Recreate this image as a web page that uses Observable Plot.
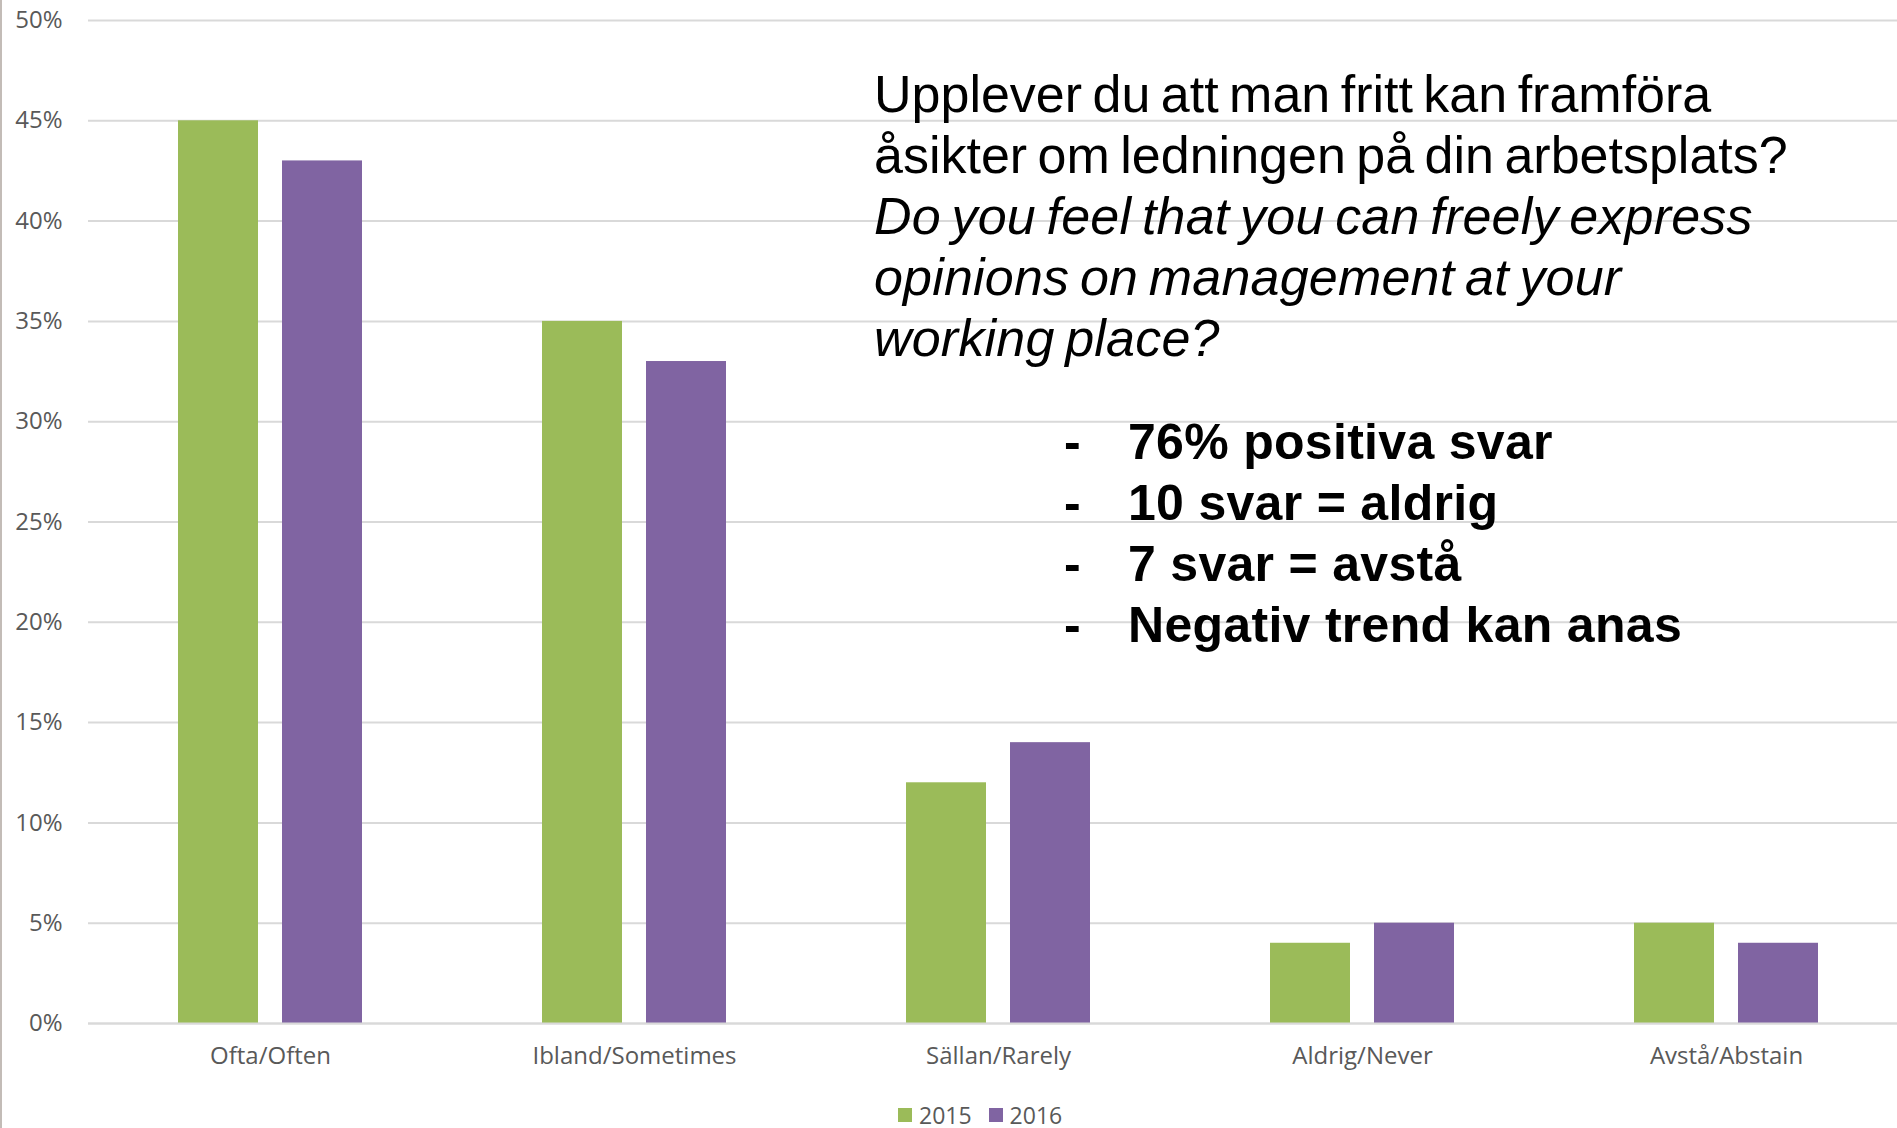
<!DOCTYPE html>
<html>
<head>
<meta charset="utf-8">
<script src="https://cdn.jsdelivr.net/npm/d3@7"></script>
<script src="https://cdn.jsdelivr.net/npm/@observablehq/plot@0.6"></script>
<style>
  html, body { margin: 0; padding: 0; background: #fff; overflow: hidden; }
  #wrap { position: relative; width: 1897px; height: 1128px; overflow: hidden; background: #fff; }
  #chart { position: absolute; left: 0; top: 0; }
  #chart svg { max-width: none !important; }
  #frame { position: absolute; left: 0; top: 0; width: 2px; height: 1128px; background: #c3bcb7; }
  #question { position: absolute; left: 874px; top: 64px; font-family: "Liberation Sans", Arial, sans-serif;
              font-size: 52px; line-height: 61px; word-spacing: -4px; color: #000; white-space: nowrap; }
  #question .en { letter-spacing: 0.2px; }
  #bullets { position: absolute; left: 1064px; top: 412px; font-family: "Liberation Sans", Arial, sans-serif;
             font-weight: bold; font-size: 50px; line-height: 61px; color: #000; white-space: nowrap; }
  #bullets .dash { display: inline-block; width: 64px; }
  #bullets .txt { letter-spacing: 0.3px; }
  #legend { position: absolute; left: 898px; top: 1104px; height: 22px; line-height: 22px; display: flex; align-items: center;
            font-family: "Open Sans", sans-serif; font-size: 23px; color: #595959; }
  #legend .sw { display: inline-block; width: 14px; height: 14px; margin-right: 7px; }
  #legend .item { display: flex; align-items: center; margin-right: 17px; line-height: 22px; }
</style>
</head>
<body>
<div id="wrap">
  <div id="chart"></div>
  <div id="frame"></div>
  <div id="question"></div>
  <div id="bullets"></div>
  <div id="legend"></div>
</div>
<script>
// ---- data ----
const categories = ["Ofta/Often", "Ibland/Sometimes", "Sällan/Rarely", "Aldrig/Never", "Avstå/Abstain"];
const years = ["2015", "2016"];
const values2015 = [45, 35, 12, 4, 5];
const values2016 = [43, 33, 14, 5, 4];
const yTicks = [0, 5, 10, 15, 20, 25, 30, 35, 40, 45, 50];
const colors = ["#9bbb59", "#8064a2"];
const questionLines = [
  "Upplever du att man fritt kan framföra",
  "åsikter om ledningen på din arbetsplats?"
];
const questionLinesEn = [
  "Do you feel that you can freely express",
  "opinions on management at your",
  "working place?"
];
const bulletLines = ["76% positiva svar", "10 svar = aldrig", "7 svar = avstå", "Negativ trend kan anas"];

// ---- table ----
const rows2015 = categories.map((c, i) => ({category: c, year: years[0], value: values2015[i]}));
const rows2016 = categories.map((c, i) => ({category: c, year: years[1], value: values2016[i]}));

const chart = Plot.plot({
  width: 1908,
  height: 1090,
  marginLeft: 88,
  marginRight: 0,
  marginTop: 20,
  marginBottom: 67,
  style: {fontFamily: "'Open Sans', sans-serif", fontSize: "24px", color: "#595959", background: "transparent", overflow: "visible", maxWidth: "none"},
  x: {domain: categories, padding: 0, label: null},
  y: {domain: [0, 50], label: null},
  marks: [
    Plot.ruleY(yTicks, {stroke: "#d9d9d9", strokeWidth: 2}),
    Plot.barY(rows2015, {x: "category", y: "value", fill: colors[0], insetLeft: 90, insetRight: 194}),
    Plot.barY(rows2016, {x: "category", y: "value", fill: colors[1], insetLeft: 194, insetRight: 90}),
    Plot.ruleY([0], {stroke: "#d9d9d9", strokeWidth: 2}),
    Plot.axisY({ticks: yTicks, tickSize: 0, tickPadding: 26, tickFormat: d => d + "%", label: null, fill: "#595959"}),
    Plot.axisX({tickSize: 0, tickPadding: 23, label: null, fill: "#595959"})
  ]
});
document.getElementById("chart").appendChild(chart);

// ---- annotation text ----
const q = d3.select("#question");
questionLines.forEach(t => q.append("div").text(t));
questionLinesEn.forEach(t => q.append("div").attr("class", "en").style("font-style", "italic").text(t));

const b = d3.select("#bullets");
bulletLines.forEach(t => {
  const line = b.append("div");
  line.append("span").attr("class", "dash").text("-");
  line.append("span").attr("class", "txt").text(t);
});

// ---- legend ----
const lg = d3.select("#legend");
years.forEach((y, i) => {
  const it = lg.append("span").attr("class", "item");
  it.append("span").attr("class", "sw").style("background", colors[i]);
  it.append("span").text(y);
});
</script>
</body>
</html>
